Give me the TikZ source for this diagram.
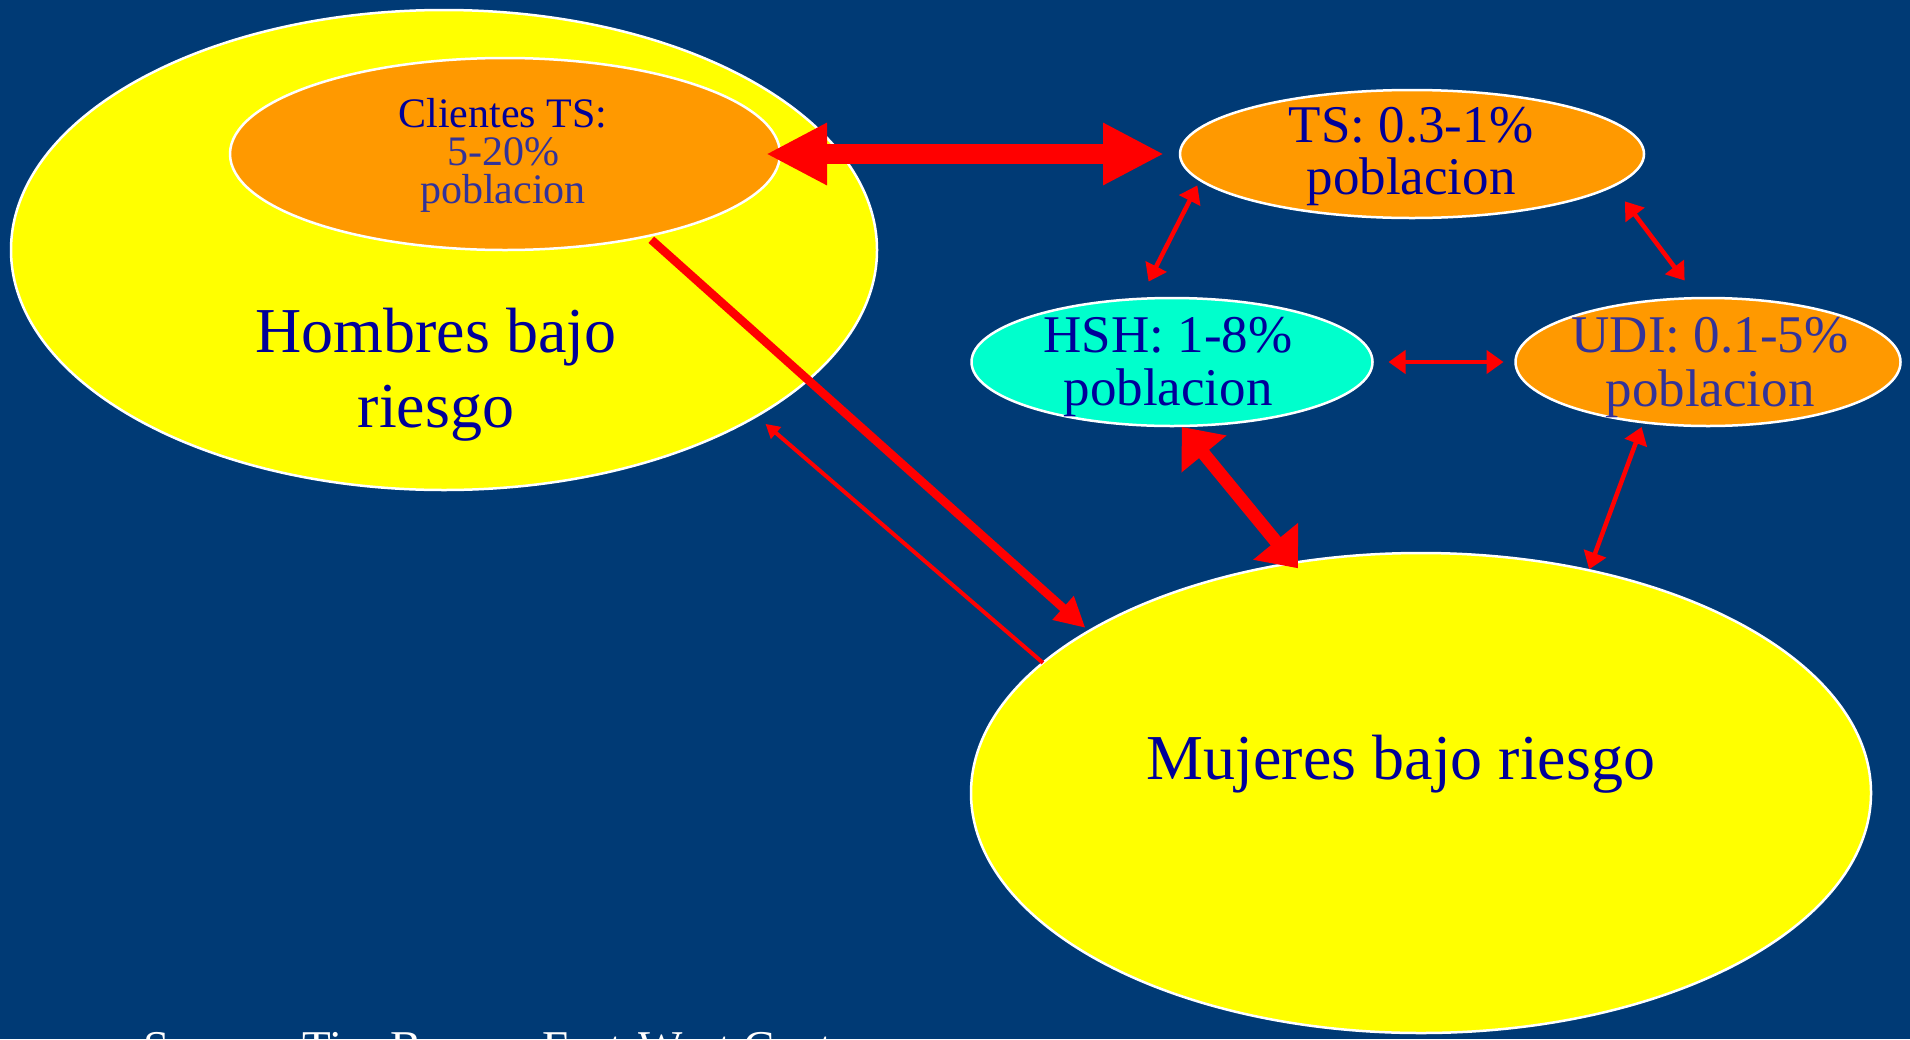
\documentclass[tikz,border=0pt]{standalone}
\usepackage{fontspec}
\setmainfont{Liberation Serif}
\usetikzlibrary{arrows.meta,shapes.geometric}
\definecolor{bg}{RGB}{0,58,117}
\definecolor{ylw}{RGB}{255,255,0}
\definecolor{org}{RGB}{255,153,0}
\definecolor{aqua}{RGB}{0,255,204}
\definecolor{dblue}{RGB}{0,0,153}
\definecolor{mblue}{RGB}{51,51,153}
\definecolor{arr}{RGB}{255,0,0}
\begin{document}
\begin{tikzpicture}[x=1pt,y=-1pt,
  blob/.style={ellipse,draw=white,line width=2.5pt,inner sep=0pt,outer sep=0pt},
  lbl/.style={inner sep=0pt,outer sep=0pt,align=center,text=dblue},
  bigarr/.style={draw=arr,line width=20pt,{Triangle[length=61pt,width=58pt]}-{Triangle[length=61pt,width=58pt]}},
  thickone/.style={draw=arr,line width=8.5pt,-{Triangle[length=30pt,width=30pt]}},
  thinone/.style={draw=arr,line width=4pt,-{Triangle[length=14pt,width=15pt]}},
  medboth/.style={draw=arr,line width=13pt,{Triangle[length=35pt,width=56pt]}-{Triangle[length=35pt,width=56pt]}},
  thinboth/.style={draw=arr,line width=4.5pt,{Triangle[length=17pt,width=23pt]}-{Triangle[length=17pt,width=23pt]}}
]
\useasboundingbox[fill=bg] (0,0) rectangle (1910,1039);

% ellipses
\node[blob,fill=ylw,minimum width=866pt,minimum height=480pt] (hom) at (444,250) {};
\node[blob,fill=org,minimum width=550pt,minimum height=192pt] (cli) at (505,154) {};
\node[blob,fill=org,minimum width=464pt,minimum height=128pt] (ts) at (1412,154) {};
\node[blob,fill=aqua,minimum width=401pt,minimum height=128pt] (hsh) at (1172,362) {};
\node[blob,fill=org,minimum width=385pt,minimum height=128pt] (udi) at (1708,362) {};
\node[blob,fill=ylw,minimum width=900pt,minimum height=480pt] (muj) at (1421,793) {};

% texts
\node[lbl,font=\fontsize{64}{75}\selectfont] (homt) at (436,375) {Hombres bajo\\riesgo};
\node[lbl,font=\fontsize{42}{38}\selectfont] (clit) at (503,155) {Clientes TS:\\\textcolor{mblue}{5-20\%}\\\textcolor{mblue}{poblacion}};
\node[lbl,font=\fontsize{53}{52}\selectfont] (tst) at (1411,157) {TS: 0.3-1\%\\poblacion};
\node[lbl,font=\fontsize{53}{53}\selectfont] (hsht) at (1168,367) {HSH: 1-8\%\\poblacion};
\node[lbl,text=mblue,font=\fontsize{53}{54}\selectfont] (udit) at (1710,368) {UDI: 0.1-5\%\\poblacion};
\node[lbl,anchor=base,font=\fontsize{64}{75}\selectfont] (mujt) at (1401,779) {Mujeres bajo riesgo};
\node[lbl,anchor=base west,text=white,font=\fontsize{47}{50}\selectfont] (src) at (143,1063) {Source: Tim Brown, East-West Center};

% connectors
\draw[bigarr,shorten <=-14pt,shorten >=16pt] (cli.east) -- (ts.west);
\draw[thickone,shorten <=5.4pt,shorten >=4.8pt] (cli.-30.31) -- (muj.154.04);
\draw[thinone,shorten >=11.9pt] (muj.161.79) -- (hom.-28.87);
\draw[medboth,shorten <=1.3pt,shorten >=-7pt] (hsh.-82.7) -- (muj.119.98);
\draw[thinboth,shorten <=6pt,shorten >=19.3pt] (ts.187.55) -- (hsh.117.8);
\draw[thinboth,shorten <=19.4pt,shorten >=22pt] (ts.-9.79) -- (udi.99.07);
\draw[thinboth,shorten <=16pt,shorten >=12pt] (hsh.east) -- (udi.west);
\draw[thinboth,shorten <=5pt,shorten >=1pt] (udi.223.2) -- (muj.53.47);
\end{tikzpicture}
\end{document}
